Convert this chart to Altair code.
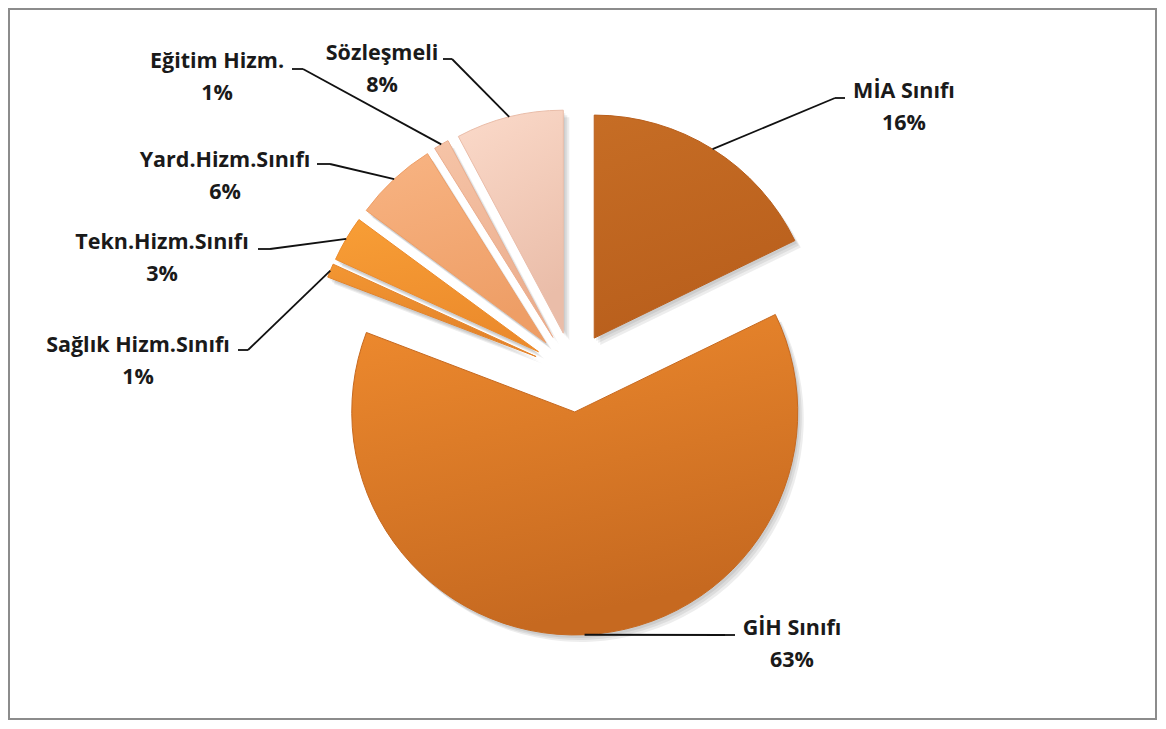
import altair as alt
import pandas as pd

# ---------------- data ----------------
categories = ["MİA Sınıfı", "GİH Sınıfı", "Sağlık Hizm.Sınıfı", "Tekn.Hizm.Sınıfı",
              "Yard.Hizm.Sınıfı", "Eğitim Hizm.", "Sözleşmeli"]
values = [17.8, 63.0, 1.0, 3.3, 6.0, 1.1, 7.8]
pct_text = ["16%", "63%", "1%", "3%", "6%", "1%", "8%"]

# ---------------- style ----------------
light = ["#C66D25", "#EE8A2E", "#F39632", "#F89E36", "#F8B483", "#F6C4A7", "#FBDACA"]
dark = ["#B95F1C", "#C66920", "#E3832A", "#EC8B2C", "#EE9E66", "#EBAE8E", "#EABDA9"]

# ---------------- layout (page pixels) ----------------
OFF = 9
CX, CY = 573 - OFF, 372 - OFF
R = 223
EXPLODE = 40
LINE2 = 32
label_cx = [904, 792, 138, 162, 225, 217, 382]
label_base = [98, 635, 352, 249, 167, 68, 60]
lead_end_x = [845, 735, 238, 258, 317, 292, 443]
lead_end_y = [98, 635, 350, 249, 164, 69, 59]
lead_elbow_x = [835, 725, 248, 270, 330, 303, 452]

df = pd.DataFrame({
    "category": categories,
    "value": values,
    "pct": pct_text,
    "order": list(range(len(categories))),
    "tx": [v - OFF for v in label_cx],
    "ty": [v - OFF for v in label_base],
    "ex": [v - OFF for v in lead_end_x],
    "ey": [v - OFF for v in lead_end_y],
    "bx": [v - OFF for v in lead_elbow_x],
})

base = (
    alt.Chart(df)
    .transform_joinaggregate(total="sum(value)")
    .transform_window(cum="sum(value)", sort=[alt.SortField("order", order="ascending")],
                      frame=[None, 0])
    .transform_calculate(
        a0="2*PI*(datum.cum - datum.value)/datum.total",
        a1="2*PI*datum.cum/datum.total",
    )
    .transform_calculate(am="(datum.a0 + datum.a1)/2")
    .transform_calculate(
        cx=f"{CX} + {EXPLODE}*sin(datum.am)",
        cy=f"{CY} - {EXPLODE}*cos(datum.am)",
        px=f"{CX} + {EXPLODE + R}*sin(datum.am)",
        py=f"{CY} - {EXPLODE + R}*cos(datum.am)",
        ty2=f"datum.ty + {LINE2}",
    )
)

arc_enc = dict(
    x=alt.X("cx:Q", scale=None),
    y=alt.Y("cy:Q", scale=None),
    theta=alt.Theta("a0:Q", scale=None, stack=None),
    theta2=alt.Theta2("a1:Q"),
)

shadows = [
    base.mark_arc(outerRadius=R, xOffset=o, yOffset=o + 1, fill="#000000", opacity=0.07)
    .encode(**arc_enc)
    for o in (2, 4, 6)
]

slices = []
for cat, lc, dc in zip(categories, light, dark):
    grad = {
        "gradient": "linear", "x1": 0, "y1": 0, "x2": 0.3, "y2": 1,
        "stops": [{"offset": 0, "color": lc}, {"offset": 1, "color": dc}],
    }
    slices.append(
        base.transform_filter(alt.datum.category == cat)
        .mark_arc(outerRadius=R, fill=grad, stroke=dc, strokeWidth=1)
        .encode(**arc_enc)
    )

rule1 = base.mark_rule(color="#111111", strokeWidth=1.8).encode(
    x=alt.X("px:Q", scale=None), y=alt.Y("py:Q", scale=None),
    x2=alt.X2("bx:Q"), y2=alt.Y2("ey:Q"),
)
rule2 = base.mark_rule(color="#111111", strokeWidth=1.8).encode(
    x=alt.X("bx:Q", scale=None), y=alt.Y("ey:Q", scale=None),
    x2=alt.X2("ex:Q"), y2=alt.Y2("ey:Q"),
)

text_style = dict(font="Open Sans", fontWeight="bold", fontSize=21.5, color="#1A1A1A",
                  align="center", baseline="alphabetic")
names = base.mark_text(**text_style).encode(
    x=alt.X("tx:Q", scale=None), y=alt.Y("ty:Q", scale=None), text="category:N"
)
pcts = base.mark_text(**text_style).encode(
    x=alt.X("tx:Q", scale=None), y=alt.Y("ty2:Q", scale=None), text="pct:N"
)

chart = (
    alt.layer(*shadows, *slices, rule1, rule2, names, pcts)
    .properties(width=1147, height=710, padding=1)
    .configure_view(stroke="#8C8C8C", strokeWidth=2)
)

chart.save("out.html", embed_options={"renderer": "svg", "actions": False})
